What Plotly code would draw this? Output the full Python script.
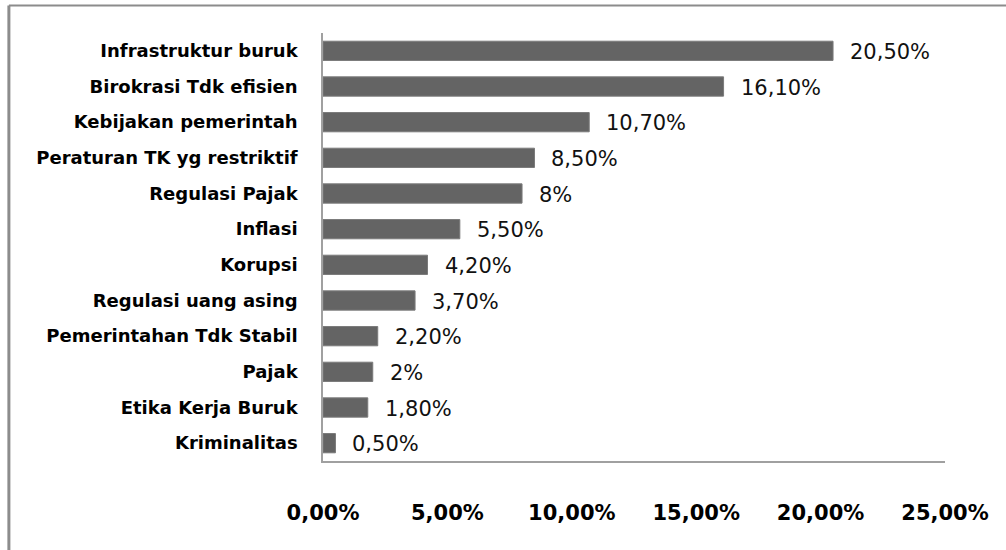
import plotly.graph_objects as go

categories = ["Infrastruktur buruk", "Birokrasi Tdk efisien", "Kebijakan pemerintah",
              "Peraturan TK yg restriktif", "Regulasi Pajak", "Inflasi", "Korupsi",
              "Regulasi uang asing", "Pemerintahan Tdk Stabil", "Pajak",
              "Etika Kerja Buruk", "Kriminalitas"]
values = [20.5, 16.1, 10.7, 8.5, 8, 5.5, 4.2, 3.7, 2.2, 2, 1.8, 0.5]
value_labels = ["20,50%", "16,10%", "10,70%", "8,50%", "8%", "5,50%", "4,20%",
                "3,70%", "2,20%", "2%", "1,80%", "0,50%"]
tick_vals = [0, 5, 10, 15, 20, 25]
tick_text = ["0,00%", "5,00%", "10,00%", "15,00%", "20,00%", "25,00%"]

FONT = "DejaVu Sans"

fig = go.Figure()
fig.add_trace(go.Bar(
    x=values, y=categories, orientation="h",
    marker=dict(color="#646464", line=dict(color="#7a7a7a", width=1)),
    hoverinfo="skip",
))

for v, c, t in zip(values, categories, value_labels):
    fig.add_annotation(x=v, y=c, text=t, showarrow=False, xanchor="left",
                       xshift=15, yshift=-1,
                       font=dict(family=FONT, size=21, color="#111111"))

# outer frame (top and left edges visible)
fig.add_shape(type="line", xref="paper", yref="paper",
              x0=-0.505, x1=1.2, y0=1.064, y1=1.064,
              line=dict(color="#8c8c8c", width=2))
fig.add_shape(type="line", xref="paper", yref="paper",
              x0=-0.505, x1=-0.505, y0=1.064, y1=-0.3,
              line=dict(color="#8c8c8c", width=3))

fig.update_layout(
    width=1006, height=550,
    margin=dict(l=323, r=61, t=33, b=89),
    paper_bgcolor="white", plot_bgcolor="white",
    showlegend=False, bargap=0.46,
    font=dict(family=FONT, color="#000000"),
)
fig.update_xaxes(range=[0, 25], tickvals=tick_vals, ticktext=tick_text,
                 showgrid=False, zeroline=False, showline=True,
                 linecolor="#a0a0a0", linewidth=1.5, ticks="",
                 ticklabelstandoff=32,
                 tickfont=dict(family=FONT, size=21, color="#000000", weight="bold"))
fig.update_yaxes(autorange="reversed", showgrid=False, zeroline=False,
                 showline=True, linecolor="#a0a0a0", linewidth=1.5, ticks="",
                 ticklabelstandoff=20,
                 tickfont=dict(family=FONT, size=18, color="#000000", weight="bold"))

fig.write_html("out.html", post_script="document.body.style.margin='0';",
               config={"displayModeBar": False})
